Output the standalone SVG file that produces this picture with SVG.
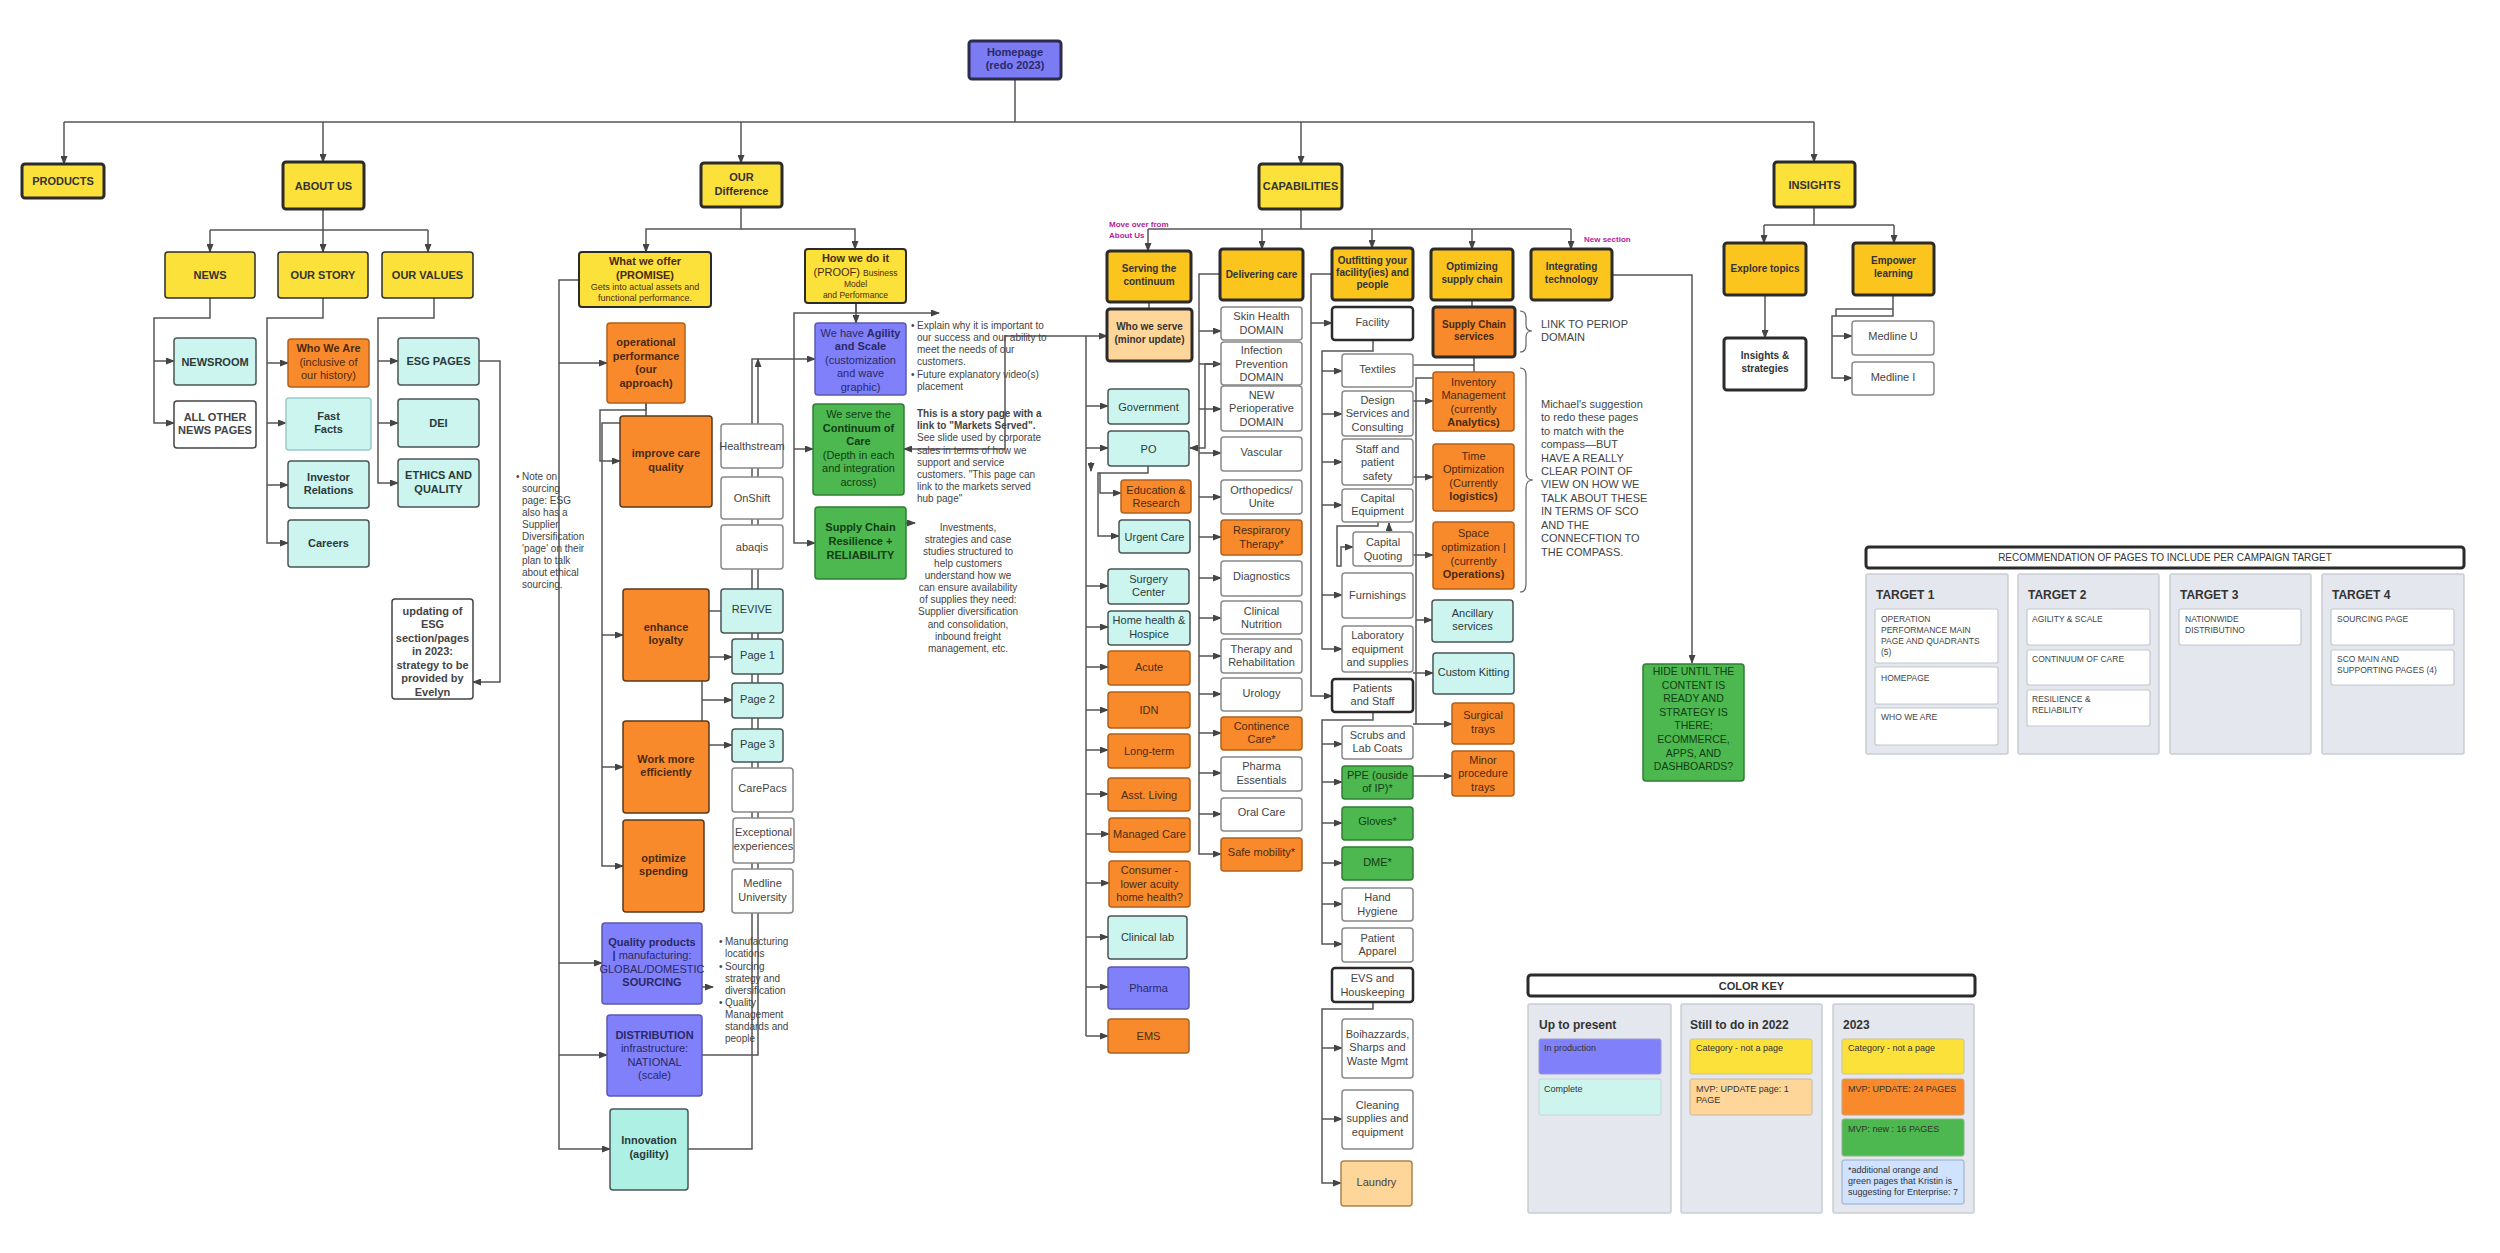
<svg xmlns="http://www.w3.org/2000/svg" width="2500" height="1253" viewBox="0 0 2500 1253">
<style>
.t{font-family:"Liberation Sans",Arial,sans-serif;text-anchor:middle;fill:#333}
.l{text-anchor:start}
.b{font-weight:bold}
.f8{font-size:8px}.f85{font-size:8.5px}.f9{font-size:9px}.f10{font-size:10px}.f105{font-size:10.5px}.f11{font-size:11px}.f12{font-size:12px}
.top{fill:#fde13b;stroke:#2b2b2b;stroke-width:3}
.amb{fill:#fbc51e;stroke:#2b2b2b;stroke-width:3}
.org{fill:#f98a2c;stroke:#b0601c;stroke-width:1.5}
.cy{fill:#ccf5ef;stroke:#4a5656;stroke-width:1.5}
.wh{fill:#fff;stroke:#888;stroke-width:1.5}
.whk{fill:#fff;stroke:#2b2b2b;stroke-width:2.5}
.pu{fill:#8080fa;stroke:#5a5ab0;stroke-width:1.5}
.gr{fill:#4cb84f;stroke:#2f7d33;stroke-width:1.5}
.pe{fill:#ffd699;stroke:#a88450;stroke-width:1.5}
.to{fill:#4a2a10}.tc{fill:#2a3a3a}.tp{fill:#2a2a66}.tg{fill:#123d14}.tw{fill:#444}
.c{fill:none;stroke:#555;stroke-width:1.5}
.a{marker-end:url(#ar)}
.pan{fill:#e4e7ed;stroke:#c9cdd4;stroke-width:1.5}
.card{fill:#fff;stroke:#c4c8ce;stroke-width:1.2}
.mg{fill:#b5219a}
</style>
<defs>
<marker id="ar" markerWidth="9" markerHeight="7" refX="8" refY="3.5" orient="auto-start-reverse" markerUnits="userSpaceOnUse"><path d="M0,0 L9,3.5 L0,7 z" fill="#444"/></marker>
</defs>
<rect width="2500" height="1253" fill="#fff"/>

<g id="connectors">
<path class="c" d="M1015 80 V122 M64 122 H1814"/>
<path class="c a" d="M64 122 V164"/><path class="c a" d="M323 122 V162"/><path class="c a" d="M741 122 V163"/><path class="c a" d="M1301 122 V164"/><path class="c a" d="M1814 122 V162"/>
<path class="c" d="M323 209 V230 M210 230 H428"/>
<path class="c a" d="M210 230 V252"/><path class="c a" d="M323 230 V252"/><path class="c a" d="M428 230 V252"/>
<path class="c a" d="M741 207 V229 H646 V252"/><path class="c a" d="M741 229 H855 V249"/>
<path class="c" d="M1301 209 V229 M1148 229 H1571"/>
<path class="c a" d="M1148 229 V251"/><path class="c a" d="M1262 229 V249"/><path class="c a" d="M1372 229 V248"/><path class="c a" d="M1472 229 V249"/><path class="c a" d="M1571 229 V249"/>
<path class="c" d="M1814 207 V225 M1764 225 H1894"/>
<path class="c a" d="M1764 225 V243"/><path class="c a" d="M1894 225 V243"/>
<path class="c a" d="M210 298 V318 H154 V423 H174"/><path class="c a" d="M154 361 H174"/>
<path class="c a" d="M323 298 V318 H267 V543 H288"/><path class="c a" d="M267 363 H288"/><path class="c a" d="M267 423 H286"/><path class="c a" d="M267 485 H288"/>
<path class="c a" d="M434 298 V318 H378 V483 H398"/><path class="c a" d="M378 361 H398"/><path class="c a" d="M378 423 H398"/>
<path class="c a" d="M479 361 H500 V682 H473"/>
<path class="c a" d="M579 280 H559 V1149 H610"/><path class="c a" d="M559 363 H607"/><path class="c a" d="M559 963 H602"/><path class="c a" d="M559 1055 H607"/>
<path class="c a" d="M646 403 V410 H600 V461 H620"/>
<path class="c a" d="M646 403 V423 H602 V866 H623"/><path class="c a" d="M602 635 H623"/><path class="c a" d="M602 767 H623"/>
<path class="c a" d="M721 611 H702 V745 H732"/><path class="c a" d="M702 657 H732"/><path class="c a" d="M702 700 H732"/>
<path class="c a" d="M688 1149 H752 V359 H815"/><path class="c a" d="M702 1055 H758 V359"/>
<path class="c a" d="M702 987 H713"/>
<path class="c a" d="M856 303 V313 H794 V543 H815"/><path class="c a" d="M794 449 H813"/><path class="c a" d="M856 303 V323"/><path class="c a" d="M856 313 H939"/>
<path class="c a" d="M895 523 H915"/>
<path class="c a" style="marker-start:url(#ar)" d="M904 449 H1005 V336 H1107"/>
<path class="c" d="M1149 302 V309 M1086 336 V1036"/>
<path class="c a" d="M1086 406 H1108"/><path class="c a" d="M1086 448 H1108"/><path class="c a" d="M1086 586 H1108"/><path class="c a" d="M1086 627 H1108"/><path class="c a" d="M1086 667 H1108"/><path class="c a" d="M1086 710 H1108"/><path class="c a" d="M1086 750 H1108"/><path class="c a" d="M1086 794 H1108"/><path class="c a" d="M1086 834 H1109"/><path class="c a" d="M1086 883 H1109"/><path class="c a" d="M1086 937 H1108"/><path class="c a" d="M1086 987 H1108"/><path class="c a" d="M1086 1036 H1108"/>
<path class="c a" d="M1148 466 V473 H1100 V493 H1121"/><path class="c a" d="M1100 473 H1098 V536 H1119"/>
<path class="c a" d="M1091 462 V471"/>
<path class="c a" d="M1220 274 H1199 V854 H1221"/>
<path class="c a" d="M1199 331 H1221"/><path class="c a" d="M1199 364 H1221"/><path class="c a" d="M1199 409 H1221"/><path class="c a" d="M1199 453 H1221"/><path class="c a" d="M1199 497 H1221"/><path class="c a" d="M1199 537 H1221"/><path class="c a" d="M1199 578 H1221"/><path class="c a" d="M1199 618 H1221"/><path class="c a" d="M1199 656 H1221"/><path class="c a" d="M1199 694 H1221"/><path class="c a" d="M1199 733 H1221"/><path class="c a" d="M1199 773 H1221"/><path class="c a" d="M1199 814 H1221"/>
<path class="c a" d="M1221 364 H1205 V448 H1190"/>
<path class="c a" d="M1332 274 H1311 V696 H1332"/><path class="c a" d="M1311 323 H1332"/>
<path class="c a" d="M1373 340 V351 H1322 V649 H1342"/><path class="c a" d="M1322 371 H1342"/><path class="c a" d="M1322 414 H1342"/><path class="c a" d="M1322 462 H1342"/><path class="c a" d="M1322 505 H1342"/><path class="c a" d="M1322 595 H1342"/>
<path class="c a" d="M1378 522 V526 H1337 V566 H1341 V547 H1353"/><path class="c a" d="M1389 533 V523"/>
<path class="c a" d="M1373 712 V720 H1322 V944 H1342"/><path class="c a" d="M1322 744 H1342"/><path class="c a" d="M1322 782 H1342"/><path class="c a" d="M1322 823 H1342"/><path class="c a" d="M1322 863 H1342"/><path class="c a" d="M1322 904 H1342"/>
<path class="c a" d="M1373 1002 V1009 H1322 V1183 H1341"/><path class="c a" d="M1322 1048 H1342"/><path class="c a" d="M1322 1119 H1342"/>
<path class="c" d="M1472 300 V307 M1474 357 V378 H1416 V724 M1413 365 H1474"/>
<path class="c a" d="M1413 401 H1433"/><path class="c a" d="M1413 477 H1433"/><path class="c a" d="M1413 555 H1433"/><path class="c a" d="M1416 620 H1432"/><path class="c a" d="M1413 673 H1433"/><path class="c a" d="M1413 724 H1452"/><path class="c a" d="M1413 776 H1452"/>
<path class="c a" d="M1612 275 H1692 V663"/>
<path class="c a" d="M1765 295 V338"/>
<path class="c a" d="M1893 295 V316 H1832 V378 H1852"/><path class="c a" d="M1832 336 H1852"/><path class="c" d="M1893 309 H1836 V316"/>
<path fill="none" stroke="#666" stroke-width="1.2" d="M1520 311 Q1526 311 1526 318 V325 Q1526 331 1532 331 Q1526 331 1526 337 V345 Q1526 352 1520 352"/>
<path fill="none" stroke="#666" stroke-width="1.2" d="M1520 368 Q1526 368 1526 376 V472 Q1526 480 1533 480 Q1526 480 1526 488 V584 Q1526 592 1520 592"/>
</g>

<g id="homepage"><rect x="969" y="41" width="92" height="38" rx="3" fill="#7b7bf4" stroke="#2b2b4b" stroke-width="3"/><text class="t b f11" style="fill:#2a2a66"><tspan x="1015" y="56">Homepage</tspan><tspan x="1015" y="69">(redo 2023)</tspan></text></g>
<g id="products"><rect class="top" x="22" y="164" width="82" height="34" rx="3"/><text class="t b f11" x="63" y="185">PRODUCTS</text></g>
<g id="aboutus"><rect class="top" x="283" y="162" width="81" height="47" rx="3"/><text class="t b f11" x="323.5" y="189.5">ABOUT US</text></g>
<g id="ourdiff"><rect class="top" x="701" y="163" width="81" height="44" rx="3"/><text class="t b f11"><tspan x="741.5" y="181">OUR</tspan><tspan x="741.5" y="195">Difference</tspan></text></g>
<g id="capabilities"><rect class="top" x="1259" y="164" width="83" height="45" rx="3"/><text class="t b f11" x="1300.5" y="190">CAPABILITIES</text></g>
<g id="insights"><rect class="top" x="1774" y="162" width="81" height="45" rx="3"/><text class="t b f11" x="1814.5" y="188.5">INSIGHTS</text></g>

<g id="news"><rect class="top" x="165" y="252" width="90" height="46" rx="3" style="stroke-width:1.5"/><text class="t b f11" x="210" y="279">NEWS</text></g>
<g id="ourstory"><rect class="top" x="278" y="252" width="90" height="46" rx="3" style="stroke-width:1.5"/><text class="t b f11" x="323" y="279">OUR STORY</text></g>
<g id="ourvalues"><rect class="top" x="382" y="252" width="91" height="46" rx="3" style="stroke-width:1.5"/><text class="t b f11" x="427.5" y="279">OUR VALUES</text></g>
<g id="newsroom"><rect class="cy" x="174" y="338" width="82" height="47" rx="3"/><text class="t b f11 tc" x="215" y="365.5">NEWSROOM</text></g>
<g id="allnews"><rect class="wh" x="174" y="401" width="82" height="47" rx="3" style="stroke:#444"/><text class="t b f11 tw"><tspan x="215" y="421">ALL OTHER</tspan><tspan x="215" y="434">NEWS PAGES</tspan></text></g>
<g id="whoweare"><rect class="org" x="288" y="339" width="81" height="48" rx="3"/><text class="t f11 to"><tspan class="b" x="328.5" y="352">Who We Are</tspan><tspan x="328.5" y="366">(inclusive of</tspan><tspan x="328.5" y="379">our history)</tspan></text></g>
<g id="fastfacts"><rect class="cy" x="286" y="398" width="85" height="52" rx="3" style="stroke:#9cc"/><text class="t b f11 tc"><tspan x="328.5" y="420">Fast</tspan><tspan x="328.5" y="433">Facts</tspan></text></g>
<g id="investor"><rect class="cy" x="288" y="461" width="81" height="47" rx="3"/><text class="t b f11 tc"><tspan x="328.5" y="481">Investor</tspan><tspan x="328.5" y="494">Relations</tspan></text></g>
<g id="careers"><rect class="cy" x="288" y="520" width="81" height="47" rx="3"/><text class="t b f11 tc" x="328.5" y="547">Careers</text></g>
<g id="esg"><rect class="cy" x="398" y="338" width="81" height="47" rx="3"/><text class="t b f11 tc" x="438.5" y="365">ESG PAGES</text></g>
<g id="dei"><rect class="cy" x="398" y="399" width="81" height="48" rx="3"/><text class="t b f11 tc" x="438.5" y="427">DEI</text></g>
<g id="ethics"><rect class="cy" x="398" y="459" width="81" height="48" rx="3"/><text class="t b f11 tc"><tspan x="438.5" y="479">ETHICS AND</tspan><tspan x="438.5" y="493">QUALITY</tspan></text></g>
<g id="updating"><rect class="wh" x="392" y="599" width="81" height="100" rx="3" style="stroke:#444"/><text class="t b f11 tw"><tspan x="432.5" y="615">updating of</tspan><tspan x="432.5" y="628">ESG</tspan><tspan x="432.5" y="642">section/pages</tspan><tspan x="432.5" y="655">in 2023:</tspan><tspan x="432.5" y="669">strategy to be</tspan><tspan x="432.5" y="682">provided by</tspan><tspan x="432.5" y="696">Evelyn</tspan></text></g>
<g id="note-sourcing"><text class="t l f10 tw" x="516" y="480">•</text><text class="t l f10 tw"><tspan x="522" y="480">Note on</tspan><tspan x="522" y="492">sourcing</tspan><tspan x="522" y="504">page: ESG</tspan><tspan x="522" y="516">also has a</tspan><tspan x="522" y="528">Supplier</tspan><tspan x="522" y="540">Diversification</tspan><tspan x="522" y="552">'page' on their</tspan><tspan x="522" y="564">plan to talk</tspan><tspan x="522" y="576">about ethical</tspan><tspan x="522" y="588">sourcing.</tspan></text></g>

<g id="whatweoffer"><rect class="top" x="579" y="252" width="132" height="55" rx="3" style="stroke-width:2"/><text class="t to"><tspan class="b f11" x="645" y="265">What we offer</tspan><tspan class="b f11" x="645" y="279">(PROMISE)</tspan><tspan class="f9" x="645" y="290">Gets into actual assets and</tspan><tspan class="f9" x="645" y="301">functional performance.</tspan></text></g>
<g id="howwedoit"><rect class="top" x="805" y="249" width="101" height="54" rx="3" style="stroke-width:2"/><text class="t to"><tspan class="b f11" x="855.5" y="262">How we do it</tspan><tspan class="f11" x="855.5" y="276">(PROOF) <tspan class="f85">Business</tspan></tspan><tspan class="f85" x="855.5" y="287">Model</tspan><tspan class="f85" x="855.5" y="298">and Performance</tspan></text></g>
<g id="operational"><rect class="org" x="607" y="323" width="78" height="80" rx="3"/><text class="t b f11 to"><tspan x="646" y="346">operational</tspan><tspan x="646" y="360">performance</tspan><tspan x="646" y="373">(our</tspan><tspan x="646" y="387">approach)</tspan></text></g>
<g id="improvecare"><rect class="org" x="620" y="416" width="92" height="91" rx="3" style="stroke:#5a3a1a"/><text class="t b f11 to"><tspan x="666" y="457">improve care</tspan><tspan x="666" y="471">quality</tspan></text></g>
<g id="enhance"><rect class="org" x="623" y="589" width="86" height="92" rx="3" style="stroke:#5a3a1a"/><text class="t b f11 to"><tspan x="666" y="631">enhance</tspan><tspan x="666" y="644">loyalty</tspan></text></g>
<g id="workmore"><rect class="org" x="623" y="721" width="86" height="92" rx="3" style="stroke:#5a3a1a"/><text class="t b f11 to"><tspan x="666" y="763">Work more</tspan><tspan x="666" y="776">efficiently</tspan></text></g>
<g id="optimize"><rect class="org" x="623" y="820" width="81" height="92" rx="3" style="stroke:#5a3a1a"/><text class="t b f11 to"><tspan x="663.5" y="862">optimize</tspan><tspan x="663.5" y="875">spending</tspan></text></g>
<g id="healthstream"><rect class="wh" x="721" y="424" width="62" height="44" rx="3"/><text class="t f11 tw" x="752" y="450">Healthstream</text></g>
<g id="onshift"><rect class="wh" x="721" y="477" width="62" height="42" rx="3"/><text class="t f11 tw" x="752" y="502">OnShift</text></g>
<g id="abaqis"><rect class="wh" x="721" y="525" width="62" height="44" rx="3"/><text class="t f11 tw" x="752" y="551">abaqis</text></g>
<g id="revive"><rect class="cy" x="721" y="589" width="62" height="44" rx="3"/><text class="t f11 tc" x="752" y="613">REVIVE</text></g>
<g id="page1"><rect class="cy" x="732" y="639" width="51" height="35" rx="3"/><text class="t f11 tc" x="757.5" y="659">Page 1</text></g>
<g id="page2"><rect class="cy" x="732" y="683" width="51" height="35" rx="3"/><text class="t f11 tc" x="757.5" y="703">Page 2</text></g>
<g id="page3"><rect class="cy" x="732" y="729" width="51" height="33" rx="3"/><text class="t f11 tc" x="757.5" y="748">Page 3</text></g>
<g id="carepacs"><rect class="wh" x="732" y="768" width="61" height="44" rx="3"/><text class="t f11 tw" x="762.5" y="792">CarePacs</text></g>
<g id="exceptional"><rect class="wh" x="733" y="818" width="61" height="45" rx="3"/><text class="t f11 tw"><tspan x="763.5" y="836">Exceptional</tspan><tspan x="763.5" y="850">experiences</tspan></text></g>
<g id="medlineuniv"><rect class="wh" x="732" y="869" width="61" height="44" rx="3"/><text class="t f11 tw"><tspan x="762.5" y="887">Medline</tspan><tspan x="762.5" y="901">University</tspan></text></g>
<g id="quality"><rect class="pu" x="602" y="923" width="100" height="81" rx="3"/><text class="t f11 tp"><tspan class="b" x="652" y="946">Quality products</tspan><tspan x="652" y="959"><tspan class="b">|</tspan> manufacturing:</tspan><tspan x="652" y="973">GLOBAL/DOMESTIC</tspan><tspan class="b" x="652" y="986">SOURCING</tspan></text></g>
<g id="distribution"><rect class="pu" x="607" y="1015" width="95" height="81" rx="3"/><text class="t f11 tp"><tspan class="b" x="654.5" y="1039">DISTRIBUTION</tspan><tspan x="654.5" y="1052">infrastructure:</tspan><tspan x="654.5" y="1066">NATIONAL</tspan><tspan x="654.5" y="1079">(scale)</tspan></text></g>
<g id="innovation"><rect class="cy" x="610" y="1109" width="78" height="81" rx="3" style="fill:#aef0e4"/><text class="t b f11 tc"><tspan x="649" y="1144">Innovation</tspan><tspan x="649" y="1158">(agility)</tspan></text></g>
<g id="mfg-notes"><text class="t l f10 tw"><tspan x="719" y="945">•</tspan><tspan x="719" y="970">•</tspan><tspan x="719" y="1006">•</tspan></text><text class="t l f10 tw"><tspan x="725" y="945">Manufacturing</tspan><tspan x="725" y="957">locations</tspan><tspan x="725" y="970">Sourcing</tspan><tspan x="725" y="982">strategy and</tspan><tspan x="725" y="994">diversification</tspan><tspan x="725" y="1006">Quality</tspan><tspan x="725" y="1018">Management</tspan><tspan x="725" y="1030">standards and</tspan><tspan x="725" y="1042">people</tspan></text></g>
<g id="agility"><rect class="pu" x="815" y="323" width="91" height="72" rx="3"/><text class="t f11 tp"><tspan x="860.5" y="337">We have <tspan class="b">Agility</tspan></tspan><tspan class="b" x="860.5" y="350">and Scale</tspan><tspan x="860.5" y="364">(customization</tspan><tspan x="860.5" y="377">and wave</tspan><tspan x="860.5" y="391">graphic)</tspan></text></g>
<g id="continuum"><rect class="gr" x="813" y="404" width="91" height="91" rx="3"/><text class="t f11 tg"><tspan x="858.5" y="418">We serve the</tspan><tspan class="b" x="858.5" y="432">Continuum of</tspan><tspan class="b" x="858.5" y="445">Care</tspan><tspan x="858.5" y="459">(Depth in each</tspan><tspan x="858.5" y="472">and integration</tspan><tspan x="858.5" y="486">across)</tspan></text></g>
<g id="resilience"><rect class="gr" x="815" y="507" width="91" height="72" rx="3"/><text class="t b f11 tg"><tspan x="860.5" y="531">Supply Chain</tspan><tspan x="860.5" y="545">Resilience +</tspan><tspan x="860.5" y="559">RELIABILITY</tspan></text></g>
<g id="explain-notes"><text class="t l f10 tw"><tspan x="911" y="329">•</tspan><tspan x="911" y="378">•</tspan></text><text class="t l f10 tw"><tspan x="917" y="329">Explain why it is important to</tspan><tspan x="917" y="341">our success and our ability to</tspan><tspan x="917" y="353">meet the needs of our</tspan><tspan x="917" y="365">customers.</tspan><tspan x="917" y="378">Future explanatory video(s)</tspan><tspan x="917" y="390">placement</tspan></text>
<text class="t l f10 tw"><tspan class="b" x="917" y="417">This is a story page with a</tspan><tspan class="b" x="917" y="429">link to "Markets Served".</tspan><tspan x="917" y="441">See slide used by corporate</tspan><tspan x="917" y="454">sales in terms of how we</tspan><tspan x="917" y="466">support and service</tspan><tspan x="917" y="478">customers. "This page can</tspan><tspan x="917" y="490">link to the markets served</tspan><tspan x="917" y="502">hub page"</tspan></text>
<text class="t f10 tw"><tspan x="968" y="531">Investments,</tspan><tspan x="968" y="543">strategies and case</tspan><tspan x="968" y="555">studies structured to</tspan><tspan x="968" y="567">help customers</tspan><tspan x="968" y="579">understand how we</tspan><tspan x="968" y="591">can ensure availability</tspan><tspan x="968" y="603">of supplies they need:</tspan><tspan x="968" y="615">Supplier diversification</tspan><tspan x="968" y="628">and consolidation,</tspan><tspan x="968" y="640">inbound freight</tspan><tspan x="968" y="652">management, etc.</tspan></text></g>

<g id="move-label"><text class="t l b f8 mg"><tspan x="1109" y="227">Move over from</tspan><tspan x="1109" y="238">About Us</tspan></text></g>
<g id="new-label"><text class="t l b f8 mg" x="1584" y="242">New section</text></g>

<g id="serving"><rect class="amb" x="1107" y="251" width="84" height="51" rx="3"/><text class="t b f10"><tspan x="1149" y="272">Serving the</tspan><tspan x="1149" y="285">continuum</tspan></text></g>
<g id="delivering"><rect class="amb" x="1220" y="249" width="83" height="51" rx="3"/><text class="t b f10" x="1261.5" y="278">Delivering care</text></g>
<g id="outfitting"><rect class="amb" x="1332" y="248" width="81" height="52" rx="3"/><text class="t b f10"><tspan x="1372.5" y="264">Outfitting your</tspan><tspan x="1372.5" y="276">facility(ies) and</tspan><tspan x="1372.5" y="288">people</tspan></text></g>
<g id="optimizing"><rect class="amb" x="1431" y="249" width="82" height="51" rx="3"/><text class="t b f10"><tspan x="1472" y="270">Optimizing</tspan><tspan x="1472" y="283">supply chain</tspan></text></g>
<g id="integrating"><rect class="amb" x="1531" y="249" width="81" height="51" rx="3"/><text class="t b f10"><tspan x="1571.5" y="270">Integrating</tspan><tspan x="1571.5" y="283">technology</tspan></text></g>
<g id="explore"><rect class="amb" x="1724" y="243" width="82" height="52" rx="3"/><text class="t b f10" x="1765" y="272">Explore topics</text></g>
<g id="empower"><rect class="amb" x="1853" y="243" width="81" height="52" rx="3"/><text class="t b f10"><tspan x="1893.5" y="264">Empower</tspan><tspan x="1893.5" y="277">learning</tspan></text></g>
<g id="insightsstrat"><rect class="whk" x="1724" y="338" width="82" height="52" rx="3" style="stroke-width:3"/><text class="t b f10"><tspan x="1765" y="359">Insights &amp;</tspan><tspan x="1765" y="372">strategies</tspan></text></g>
<g id="medlineu"><rect class="wh" x="1852" y="321" width="82" height="34" rx="3"/><text class="t f11 tw" x="1893" y="340">Medline U</text></g>
<g id="medlinei"><rect class="wh" x="1852" y="362" width="82" height="33" rx="3"/><text class="t f11 tw" x="1893" y="381">Medline I</text></g>

<g id="whoweserve"><rect class="pe" x="1107" y="309" width="85" height="52" rx="3" style="stroke:#2b2b2b;stroke-width:3"/><text class="t b f10"><tspan x="1149.5" y="330">Who we serve</tspan><tspan x="1149.5" y="343">(minor update)</tspan></text></g>
<g id="government"><rect class="cy" x="1108" y="389" width="81" height="35" rx="3"/><text class="t f11 tc" x="1148.5" y="410.5">Government</text></g>
<g id="po"><rect class="cy" x="1108" y="431" width="81" height="35" rx="3"/><text class="t f11 tc" x="1148.5" y="452.5">PO</text></g>
<g id="education"><rect class="org" x="1121" y="480" width="70" height="33" rx="3"/><text class="t f11 to"><tspan x="1156" y="494">Education &amp;</tspan><tspan x="1156" y="507">Research</tspan></text></g>
<g id="urgent"><rect class="cy" x="1119" y="520" width="71" height="33" rx="3"/><text class="t f11 tc" x="1154.5" y="540.5">Urgent Care</text></g>
<g id="surgery"><rect class="cy" x="1108" y="569" width="81" height="35" rx="3"/><text class="t f11 tc"><tspan x="1148.5" y="583">Surgery</tspan><tspan x="1148.5" y="596">Center</tspan></text></g>
<g id="homehealth"><rect class="cy" x="1108" y="611" width="82" height="34" rx="3"/><text class="t f11 tc"><tspan x="1149" y="624">Home health &amp;</tspan><tspan x="1149" y="638">Hospice</tspan></text></g>
<g id="acute"><rect class="org" x="1108" y="651" width="82" height="34" rx="3"/><text class="t f11 to" x="1149" y="671">Acute</text></g>
<g id="idn"><rect class="org" x="1108" y="692" width="82" height="36" rx="3"/><text class="t f11 to" x="1149" y="714">IDN</text></g>
<g id="longterm"><rect class="org" x="1108" y="734" width="82" height="34" rx="3"/><text class="t f11 to" x="1149" y="755">Long-term</text></g>
<g id="asstliving"><rect class="org" x="1108" y="778" width="82" height="33" rx="3"/><text class="t f11 to" x="1149" y="798.5">Asst. Living</text></g>
<g id="managed"><rect class="org" x="1109" y="818" width="81" height="34" rx="3"/><text class="t f11 to" x="1149.5" y="838">Managed Care</text></g>
<g id="consumer"><rect class="org" x="1109" y="861" width="81" height="46" rx="3"/><text class="t f11 to"><tspan x="1149.5" y="874">Consumer -</tspan><tspan x="1149.5" y="888">lower acuity</tspan><tspan x="1149.5" y="901">home health?</tspan></text></g>
<g id="clinicallab"><rect class="cy" x="1108" y="916" width="79" height="43" rx="3"/><text class="t f11 tc" x="1147.5" y="941">Clinical lab</text></g>
<g id="pharma"><rect class="pu" x="1108" y="967" width="81" height="42" rx="3"/><text class="t f11 tp" x="1148.5" y="992">Pharma</text></g>
<g id="ems"><rect class="org" x="1108" y="1019" width="81" height="34" rx="3"/><text class="t f11 to" x="1148.5" y="1040">EMS</text></g>

<g id="skin"><rect class="wh" x="1221" y="307" width="81" height="33" rx="3"/><text class="t f11 tw"><tspan x="1261.5" y="320">Skin Health</tspan><tspan x="1261.5" y="334">DOMAIN</tspan></text></g>
<g id="infection"><rect class="wh" x="1221" y="342" width="81" height="43" rx="3"/><text class="t f11 tw"><tspan x="1261.5" y="354">Infection</tspan><tspan x="1261.5" y="368">Prevention</tspan><tspan x="1261.5" y="381">DOMAIN</tspan></text></g>
<g id="periop"><rect class="wh" x="1221" y="386" width="81" height="45" rx="3"/><text class="t f11 tw"><tspan x="1261.5" y="399">NEW</tspan><tspan x="1261.5" y="412">Perioperative</tspan><tspan x="1261.5" y="426">DOMAIN</tspan></text></g>
<g id="vascular"><rect class="wh" x="1221" y="437" width="81" height="34" rx="3"/><text class="t f11 tw" x="1261.5" y="456">Vascular</text></g>
<g id="ortho"><rect class="wh" x="1221" y="480" width="81" height="34" rx="3"/><text class="t f11 tw"><tspan x="1261.5" y="494">Orthopedics/</tspan><tspan x="1261.5" y="507">Unite</tspan></text></g>
<g id="resp"><rect class="org" x="1221" y="520" width="81" height="35" rx="3"/><text class="t f11 to"><tspan x="1261.5" y="534">Respirarory</tspan><tspan x="1261.5" y="548">Therapy*</tspan></text></g>
<g id="diagnostics"><rect class="wh" x="1221" y="561" width="81" height="35" rx="3"/><text class="t f11 tw" x="1261.5" y="580">Diagnostics</text></g>
<g id="nutrition"><rect class="wh" x="1221" y="601" width="81" height="33" rx="3"/><text class="t f11 tw"><tspan x="1261.5" y="615">Clinical</tspan><tspan x="1261.5" y="628">Nutrition</tspan></text></g>
<g id="therapy"><rect class="wh" x="1221" y="639" width="81" height="34" rx="3"/><text class="t f11 tw"><tspan x="1261.5" y="653">Therapy and</tspan><tspan x="1261.5" y="666">Rehabilitation</tspan></text></g>
<g id="urology"><rect class="wh" x="1221" y="678" width="81" height="33" rx="3"/><text class="t f11 tw" x="1261.5" y="697">Urology</text></g>
<g id="continence"><rect class="org" x="1221" y="717" width="81" height="33" rx="3"/><text class="t f11 to"><tspan x="1261.5" y="730">Continence</tspan><tspan x="1261.5" y="743">Care*</tspan></text></g>
<g id="pharmaess"><rect class="wh" x="1221" y="757" width="81" height="34" rx="3"/><text class="t f11 tw"><tspan x="1261.5" y="770">Pharma</tspan><tspan x="1261.5" y="784">Essentials</tspan></text></g>
<g id="oral"><rect class="wh" x="1221" y="798" width="81" height="33" rx="3"/><text class="t f11 tw" x="1261.5" y="816">Oral Care</text></g>
<g id="safemob"><rect class="org" x="1221" y="838" width="81" height="33" rx="3"/><text class="t f11 to" x="1261.5" y="856">Safe mobility*</text></g>

<g id="facility"><rect class="whk" x="1332" y="307" width="81" height="33" rx="3"/><text class="t f11 tw" x="1372.5" y="326">Facility</text></g>
<g id="textiles"><rect class="wh" x="1342" y="354" width="71" height="33" rx="3"/><text class="t f11 tw" x="1377.5" y="373">Textiles</text></g>
<g id="design"><rect class="wh" x="1342" y="391" width="71" height="45" rx="3"/><text class="t f11 tw"><tspan x="1377.5" y="404">Design</tspan><tspan x="1377.5" y="417">Services and</tspan><tspan x="1377.5" y="431">Consulting</tspan></text></g>
<g id="staff"><rect class="wh" x="1342" y="439" width="71" height="46" rx="3"/><text class="t f11 tw"><tspan x="1377.5" y="453">Staff and</tspan><tspan x="1377.5" y="466">patient</tspan><tspan x="1377.5" y="480">safety</tspan></text></g>
<g id="capeq"><rect class="wh" x="1342" y="489" width="71" height="33" rx="3"/><text class="t f11 tw"><tspan x="1377.5" y="502">Capital</tspan><tspan x="1377.5" y="515">Equipment</tspan></text></g>
<g id="capquote"><rect class="wh" x="1353" y="532" width="60" height="34" rx="3"/><text class="t f11 tw"><tspan x="1383" y="546">Capital</tspan><tspan x="1383" y="560">Quoting</tspan></text></g>
<g id="furnishings"><rect class="wh" x="1342" y="573" width="71" height="45" rx="3"/><text class="t f11 tw" x="1377.5" y="599">Furnishings</text></g>
<g id="lab"><rect class="wh" x="1342" y="626" width="71" height="46" rx="3"/><text class="t f11 tw"><tspan x="1377.5" y="639">Laboratory</tspan><tspan x="1377.5" y="653">equipment</tspan><tspan x="1377.5" y="666">and supplies</tspan></text></g>
<g id="patients"><rect class="whk" x="1332" y="679" width="81" height="33" rx="3"/><text class="t f11 tw"><tspan x="1372.5" y="692">Patients</tspan><tspan x="1372.5" y="705">and Staff</tspan></text></g>
<g id="scrubs"><rect class="wh" x="1342" y="726" width="71" height="33" rx="3"/><text class="t f11 tw"><tspan x="1377.5" y="739">Scrubs and</tspan><tspan x="1377.5" y="752">Lab Coats</tspan></text></g>
<g id="ppe"><rect class="gr" x="1342" y="766" width="71" height="33" rx="3"/><text class="t f11 tg"><tspan x="1377.5" y="779">PPE (ouside</tspan><tspan x="1377.5" y="792">of IP)*</tspan></text></g>
<g id="gloves"><rect class="gr" x="1342" y="807" width="71" height="33" rx="3"/><text class="t f11 tg" x="1377.5" y="825">Gloves*</text></g>
<g id="dme"><rect class="gr" x="1342" y="847" width="71" height="33" rx="3"/><text class="t f11 tg" x="1377.5" y="866">DME*</text></g>
<g id="hand"><rect class="wh" x="1342" y="888" width="71" height="33" rx="3"/><text class="t f11 tw"><tspan x="1377.5" y="901">Hand</tspan><tspan x="1377.5" y="915">Hygiene</tspan></text></g>
<g id="apparel"><rect class="wh" x="1342" y="928" width="71" height="34" rx="3"/><text class="t f11 tw"><tspan x="1377.5" y="942">Patient</tspan><tspan x="1377.5" y="955">Apparel</tspan></text></g>
<g id="evs"><rect class="whk" x="1332" y="968" width="81" height="34" rx="3"/><text class="t f11 tw"><tspan x="1372.5" y="982">EVS and</tspan><tspan x="1372.5" y="996">Houskeeping</tspan></text></g>
<g id="biohaz"><rect class="wh" x="1342" y="1019" width="71" height="59" rx="3"/><text class="t f11 tw"><tspan x="1377.5" y="1038">Boihazzards,</tspan><tspan x="1377.5" y="1051">Sharps and</tspan><tspan x="1377.5" y="1065">Waste Mgmt</tspan></text></g>
<g id="cleaning"><rect class="wh" x="1342" y="1090" width="71" height="59" rx="3"/><text class="t f11 tw"><tspan x="1377.5" y="1109">Cleaning</tspan><tspan x="1377.5" y="1122">supplies and</tspan><tspan x="1377.5" y="1136">equipment</tspan></text></g>
<g id="laundry"><rect class="pe" x="1341" y="1161" width="71" height="45" rx="3"/><text class="t f11 tw" x="1376.5" y="1186">Laundry</text></g>

<g id="scservices"><rect class="org" x="1433" y="307" width="82" height="50" rx="3" style="stroke:#2b2b2b;stroke-width:3"/><text class="t b f10 to"><tspan x="1474" y="328">Supply Chain</tspan><tspan x="1474" y="340">services</tspan></text></g>
<g id="inventory"><rect class="org" x="1433" y="372" width="81" height="59" rx="3"/><text class="t f11 to"><tspan x="1473.5" y="386">Inventory</tspan><tspan x="1473.5" y="399">Management</tspan><tspan x="1473.5" y="413">(currently</tspan><tspan class="b" x="1473.5" y="426">Analytics)</tspan></text></g>
<g id="timeopt"><rect class="org" x="1433" y="444" width="81" height="67" rx="3"/><text class="t f11 to"><tspan x="1473.5" y="460">Time</tspan><tspan x="1473.5" y="473">Optimization</tspan><tspan x="1473.5" y="487">(Currently</tspan><tspan class="b" x="1473.5" y="500">logistics)</tspan></text></g>
<g id="spaceopt"><rect class="org" x="1433" y="522" width="81" height="67" rx="3"/><text class="t f11 to"><tspan x="1473.5" y="537">Space</tspan><tspan x="1473.5" y="551">optimization |</tspan><tspan x="1473.5" y="565">(currently</tspan><tspan class="b" x="1473.5" y="578">Operations)</tspan></text></g>
<g id="ancillary"><rect class="cy" x="1432" y="600" width="81" height="42" rx="3"/><text class="t f11 tc"><tspan x="1472.5" y="617">Ancillary</tspan><tspan x="1472.5" y="630">services</tspan></text></g>
<g id="kitting"><rect class="cy" x="1433" y="653" width="81" height="41" rx="3"/><text class="t f11 tc" x="1473.5" y="676">Custom Kitting</text></g>
<g id="surgtrays"><rect class="org" x="1452" y="703" width="62" height="41" rx="3"/><text class="t f11 to"><tspan x="1483" y="719">Surgical</tspan><tspan x="1483" y="733">trays</tspan></text></g>
<g id="minortrays"><rect class="org" x="1452" y="751" width="62" height="45" rx="3"/><text class="t f11 to"><tspan x="1483" y="764">Minor</tspan><tspan x="1483" y="777">procedure</tspan><tspan x="1483" y="791">trays</tspan></text></g>

<g id="periop-note"><text class="t l f11 tw"><tspan x="1541" y="328">LINK TO PERIOP</tspan><tspan x="1541" y="341">DOMAIN</tspan></text></g>
<g id="michael-note"><text class="t l f11 tw"><tspan x="1541" y="408">Michael's suggestion</tspan><tspan x="1541" y="421">to redo these pages</tspan><tspan x="1541" y="435">to match with the</tspan><tspan x="1541" y="448">compass—BUT</tspan><tspan x="1541" y="462">HAVE A REALLY</tspan><tspan x="1541" y="475">CLEAR POINT OF</tspan><tspan x="1541" y="488">VIEW ON HOW WE</tspan><tspan x="1541" y="502">TALK ABOUT THESE</tspan><tspan x="1541" y="515">IN TERMS OF SCO</tspan><tspan x="1541" y="529">AND THE</tspan><tspan x="1541" y="542">CONNECFTION TO</tspan><tspan x="1541" y="556">THE COMPASS.</tspan></text></g>
<g id="hide"><rect class="gr" x="1643" y="664" width="101" height="117" rx="3"/><text class="t f105 tg"><tspan x="1693.5" y="675">HIDE UNTIL THE</tspan><tspan x="1693.5" y="688.6">CONTENT IS</tspan><tspan x="1693.5" y="702.2">READY AND</tspan><tspan x="1693.5" y="715.8">STRATEGY IS</tspan><tspan x="1693.5" y="729.4">THERE;</tspan><tspan x="1693.5" y="743">ECOMMERCE,</tspan><tspan x="1693.5" y="756.6">APPS, AND</tspan><tspan x="1693.5" y="770.2">DASHBOARDS?</tspan></text></g>

<g id="recommendation">
<rect x="1866" y="547" width="598" height="21" rx="3" fill="#fff" stroke="#2b2b2b" stroke-width="3"/>
<text class="t f10" x="2165" y="561">RECOMMENDATION OF PAGES TO INCLUDE PER CAMPAIGN TARGET</text>
<rect class="pan" x="1866" y="574" width="142" height="180" rx="2"/><rect class="pan" x="2018" y="574" width="141" height="180" rx="2"/><rect class="pan" x="2170" y="574" width="141" height="180" rx="2"/><rect class="pan" x="2322" y="574" width="142" height="180" rx="2"/>
<text class="t l b f12" fill="#222"><tspan x="1876" y="599">TARGET 1</tspan><tspan x="2028" y="599">TARGET 2</tspan><tspan x="2180" y="599">TARGET 3</tspan><tspan x="2332" y="599">TARGET 4</tspan></text>
<rect class="card" x="1875" y="609" width="123" height="54" rx="2"/><rect class="card" x="1875" y="667" width="123" height="37" rx="2"/><rect class="card" x="1875" y="708" width="123" height="37" rx="2"/>
<rect class="card" x="2027" y="609" width="123" height="36" rx="2"/><rect class="card" x="2027" y="650" width="123" height="35" rx="2"/><rect class="card" x="2027" y="690" width="123" height="36" rx="2"/>
<rect class="card" x="2179" y="609" width="122" height="36" rx="2"/>
<rect class="card" x="2331" y="609" width="123" height="36" rx="2"/><rect class="card" x="2331" y="650" width="123" height="35" rx="2"/>
<text class="t l f85 tw"><tspan x="1881" y="622">OPERATION</tspan><tspan x="1881" y="633">PERFORMANCE MAIN</tspan><tspan x="1881" y="644">PAGE AND QUADRANTS</tspan><tspan x="1881" y="655">(5)</tspan><tspan x="1881" y="681">HOMEPAGE</tspan><tspan x="1881" y="720">WHO WE ARE</tspan>
<tspan x="2032" y="622">AGILITY &amp; SCALE</tspan><tspan x="2032" y="662">CONTINUUM OF CARE</tspan><tspan x="2032" y="702">RESILIENCE &amp;</tspan><tspan x="2032" y="713">RELIABILITY</tspan>
<tspan x="2185" y="622">NATIONWIDE</tspan><tspan x="2185" y="633">DISTRIBUTINO</tspan>
<tspan x="2337" y="622">SOURCING PAGE</tspan><tspan x="2337" y="662">SCO MAIN AND</tspan><tspan x="2337" y="673">SUPPORTING PAGES (4)</tspan></text>
</g>

<g id="colorkey">
<rect x="1528" y="975" width="447" height="21" rx="3" fill="#fff" stroke="#2b2b2b" stroke-width="3"/>
<text class="t b f11" x="1751.5" y="989.5">COLOR KEY</text>
<rect class="pan" x="1528" y="1004" width="143" height="209" rx="2"/><rect class="pan" x="1681" y="1004" width="141" height="209" rx="2"/><rect class="pan" x="1833" y="1004" width="141" height="209" rx="2"/>
<text class="t l b f12" fill="#111"><tspan x="1539" y="1029">Up to present</tspan><tspan x="1690" y="1029">Still to do in 2022</tspan><tspan x="1843" y="1029">2023</tspan></text>
<rect x="1539" y="1039" width="122" height="35" rx="2" fill="#8080fa" stroke="#9a9ad0"/>
<rect x="1539" y="1079" width="122" height="36" rx="2" fill="#cdf5ee" stroke="#c4d8d4"/>
<rect x="1690" y="1039" width="122" height="35" rx="2" fill="#fde13b" stroke="#c9c39a"/>
<rect x="1690" y="1079" width="122" height="36" rx="2" fill="#ffd699" stroke="#c9b79a"/>
<rect x="1842" y="1039" width="122" height="35" rx="2" fill="#fde13b" stroke="#c9c39a"/>
<rect x="1842" y="1079" width="122" height="36" rx="2" fill="#f98a2c" stroke="#c9a07a"/>
<rect x="1842" y="1119" width="122" height="37" rx="2" fill="#4cb84f" stroke="#8ab48c"/>
<rect x="1842" y="1160" width="122" height="44" rx="2" fill="#cfe2ff" stroke="#9aaac4"/>
<text class="t l f9" fill="#222"><tspan x="1544" y="1051">In production</tspan><tspan x="1544" y="1092">Complete</tspan>
<tspan x="1696" y="1051">Category - not a page</tspan><tspan x="1696" y="1092">MVP: UPDATE page: 1</tspan><tspan x="1696" y="1103">PAGE</tspan>
<tspan x="1848" y="1051">Category - not a page</tspan><tspan x="1848" y="1092">MVP: UPDATE: 24 PAGES</tspan><tspan x="1848" y="1132">MVP: new : 16 PAGES</tspan><tspan x="1848" y="1173">*additional orange and</tspan><tspan x="1848" y="1184">green pages that Kristin is</tspan><tspan x="1848" y="1195">suggesting for Enterprise: 7</tspan></text>
</g>
</svg>
